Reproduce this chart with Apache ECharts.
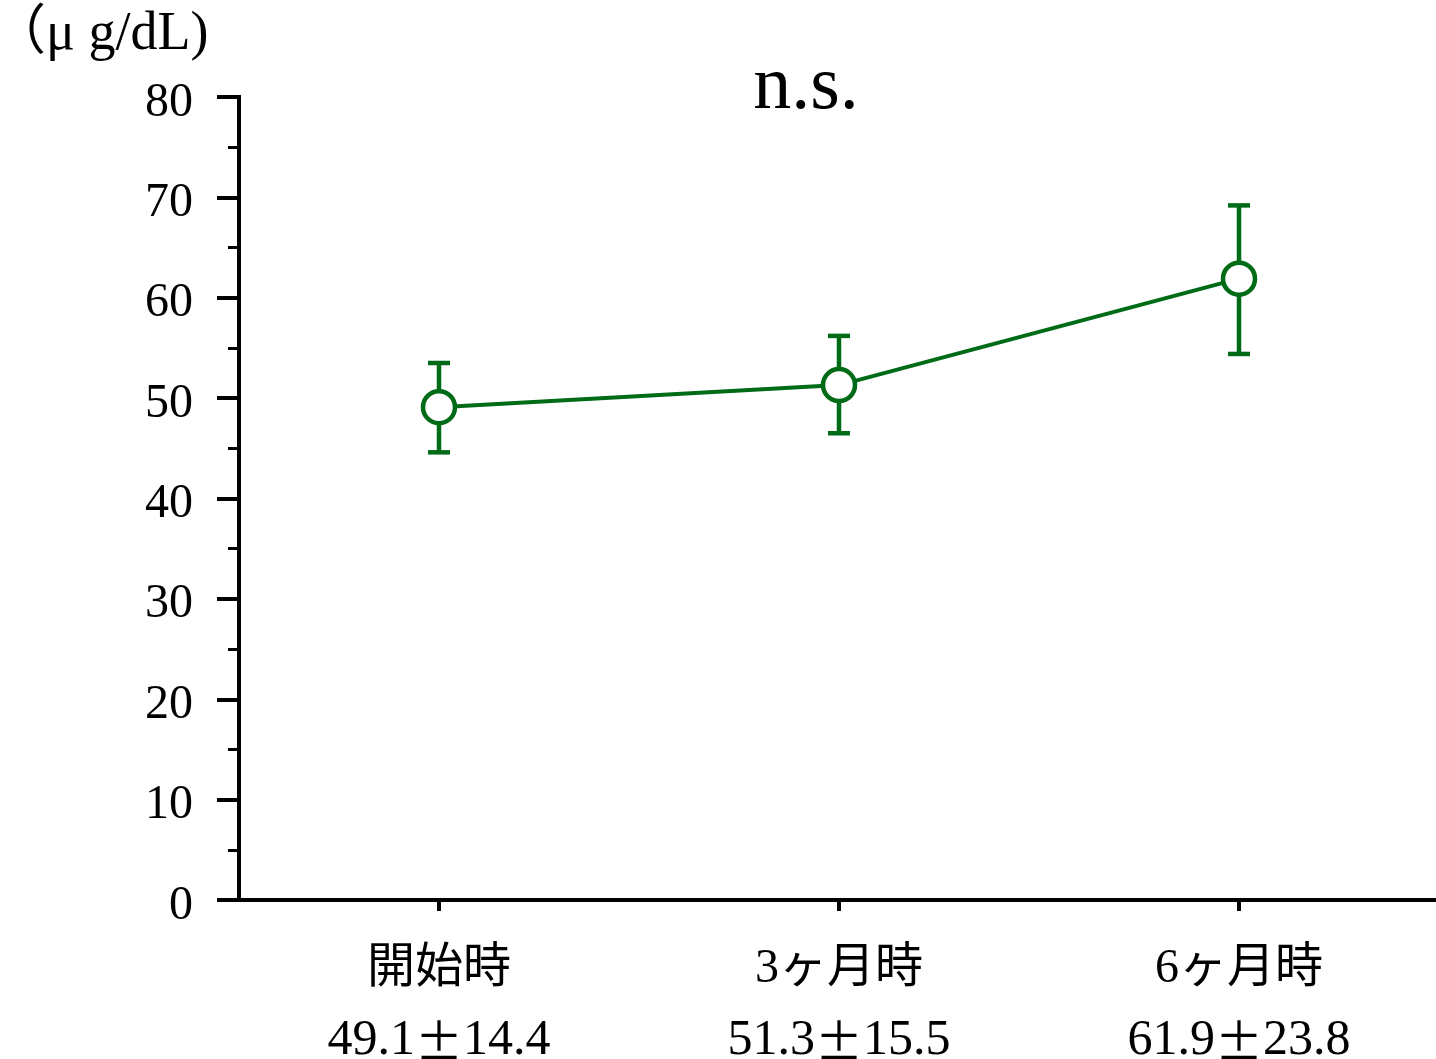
<!DOCTYPE html>
<html>
<head>
<meta charset="utf-8">
<script src="https://cdn.jsdelivr.net/npm/echarts@6/dist/echarts.min.js"></script>
<style>
  html, body { margin: 0; padding: 0; background: #fff; }
  #chart { width: 1436px; height: 1059px; }
</style>
</head>
<body>
<div id="chart"></div>
<script>
// Time points and measured values (mean ± SD)
const categories = ['開始時', '3ヶ月時', '6ヶ月時'];
const means = [49.1, 51.3, 61.9];
const sds = [14.4, 15.5, 23.8];
// Error bar extents drawn around each mean
const errLow = [44.6, 46.5, 54.4];
const errHigh = [53.5, 56.2, 69.2];
// Axis settings
const yMin = 0, yMax = 80, yStep = 10;
const unitText = '（μ g/dL)';
const noteText = 'n.s.';

const green = '#006b16';
const font = "'Liberation Serif', 'Noto Sans CJK JP', serif";

const errData = categories.map((c, i) => [i, errLow[i], errHigh[i]]);

const chart = echarts.init(document.getElementById('chart'), null, { renderer: 'canvas' });

chart.setOption({
  backgroundColor: '#fff',
  animation: false,
  grid: { left: 239, top: 97, width: 1200, height: 803, containLabel: false, outerBoundsMode: 'none' },
  xAxis: {
    type: 'category',
    data: categories,
    boundaryGap: true,
    axisLine: { show: true, lineStyle: { color: '#000', width: 4, cap: 'square' } },
    axisTick: { show: true, alignWithLabel: true, length: 11, lineStyle: { color: '#000', width: 4 } },
    axisLabel: {
      color: '#000', fontFamily: font, fontSize: 48, lineHeight: 71, margin: 34, interval: 0,
      formatter: function (value, i) {
        return '{c|' + value + '}\n{v|' + means[i].toFixed(1) + '}{pm|±}{v|' + sds[i].toFixed(1) + '}';
      },
      rich: {
        c: { fontFamily: font, fontSize: 48, lineHeight: 71, color: '#000' },
        v: { fontFamily: font, fontSize: 50, lineHeight: 71, color: '#000' },
        pm: { fontFamily: "'Noto Sans CJK JP', sans-serif", fontSize: 48, lineHeight: 71, color: '#000' }
      }
    },
    splitLine: { show: false }
  },
  yAxis: {
    type: 'value',
    min: yMin, max: yMax, interval: yStep,
    axisLine: { show: true, lineStyle: { color: '#000', width: 4, cap: 'square' } },
    axisTick: { show: true, length: 22, lineStyle: { color: '#000', width: 4 } },
    minorTick: { show: true, splitNumber: 2, length: 11, lineStyle: { color: '#000', width: 3 } },
    axisLabel: { color: '#000', fontFamily: font, fontSize: 48, margin: 46, verticalAlign: 'top', lineHeight: 12 },
    splitLine: { show: false }
  },
  graphic: [
    { type: 'text', left: -8, top: 8, style: { text: unitText, fill: '#000', font: '54px ' + font } },
    { type: 'text', x: 806, y: 88, style: { text: noteText, fill: '#000', font: '76px ' + font, textAlign: 'center', textVerticalAlign: 'middle' } }
  ],
  series: [
    {
      type: 'custom',
      z: 1,
      data: errData,
      renderItem: function (params, api) {
        const x = api.value(0);
        const lo = api.coord([x, api.value(1)]);
        const hi = api.coord([x, api.value(2)]);
        const hw = 11;
        const style = { stroke: green, lineWidth: 4.5, fill: null };
        return {
          type: 'group',
          children: [
            { type: 'line', shape: { x1: hi[0], y1: hi[1], x2: lo[0], y2: lo[1] }, style: style },
            { type: 'line', shape: { x1: hi[0] - hw, y1: hi[1], x2: hi[0] + hw, y2: hi[1] }, style: style },
            { type: 'line', shape: { x1: lo[0] - hw, y1: lo[1], x2: lo[0] + hw, y2: lo[1] }, style: style }
          ]
        };
      }
    },
    {
      type: 'line',
      z: 3,
      data: means,
      symbol: 'circle',
      symbolSize: 32,
      showAllSymbol: true,
      lineStyle: { color: green, width: 4 },
      itemStyle: { color: '#fff', borderColor: green, borderWidth: 4.5 },
      label: { show: false }
    }
  ]
});
</script>
</body>
</html>
